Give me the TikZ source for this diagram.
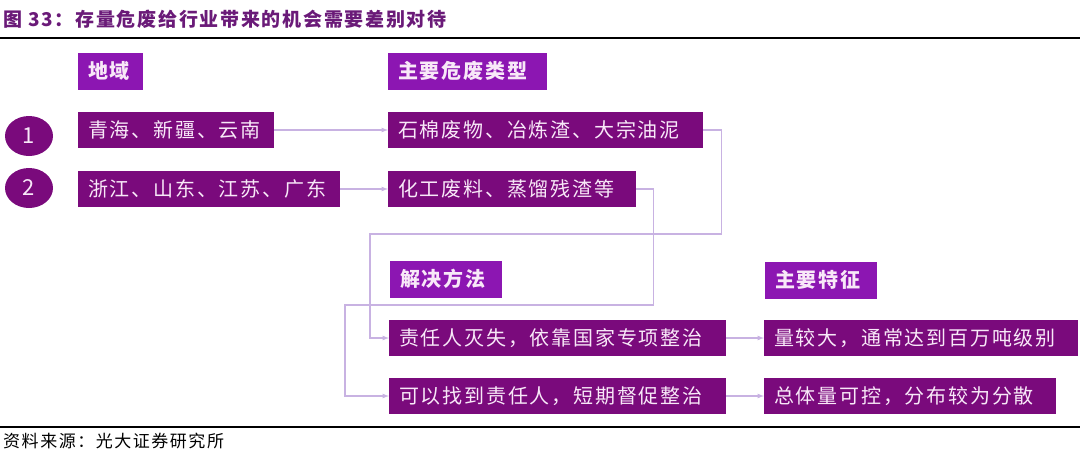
\documentclass[tikz,border=0pt]{standalone}
\usepackage{fontspec}
\setmainfont{Noto Sans CJK SC}
\newfontfamily\boxfont[LetterSpace=9]{Noto Sans CJK SC}
\usepackage{tikz}
\usetikzlibrary{shapes.geometric}
\definecolor{dkpurple}{RGB}{122,10,124}
\definecolor{hdpurple}{RGB}{140,22,178}
\definecolor{ttpurple}{RGB}{106,26,120}
\definecolor{linkcol}{RGB}{200,178,226}
\definecolor{boxtext}{RGB}{248,232,248}

\begin{document}
\begin{tikzpicture}[x = 1pt, y = -1pt,
  box/.style = {fill=dkpurple, text=boxtext, font=\boxfont\fontsize{20}{24}\selectfont, anchor=west, inner xsep=10pt, inner ysep=0pt, minimum height=36pt, text width=#1, align=left},
  head/.style = {box=#1, fill=hdpurple, font=\boxfont\fontsize{20}{24}\selectfont\bfseries, minimum height=37pt},
  num/.style = {ellipse, fill=dkpurple, text=boxtext, minimum width=48pt, minimum height=40pt, inner sep=0pt, font=\fontsize{22}{24}\selectfont},
  link/.style = {-latex, linkcol, line width=1.2pt}]
  \useasboundingbox (0, 0) rectangle (1080, 456);
  \node[anchor=west, text=ttpurple, font=\boxfont\fontsize{19}{24}\selectfont\bfseries, inner sep=0pt] (title) at (3, 19) {图 33：存量危废给行业带来的机会需要差别对待};
  \draw[line width=2pt] (0, 38) -- (1080, 38);
  \draw[line width=2pt] (0, 427) -- (1080, 427);
  \node[anchor=west, font=\boxfont\fontsize{17}{20}\selectfont, inner sep=0pt] (src) at (3, 441) {资料来源：光大证券研究所};
  \node[num] (n1) at (29, 136) {1};
  \node[num] (n2) at (29, 188) {2};
  \node[head=45pt] (hdy) at (78, 71) {地域};
  \node[head=139pt] (hlx) at (388, 71) {主要危废类型};
  \node[head=92pt] (hff) at (390, 279) {解决方法};
  \node[head=92pt] (htz) at (765, 280) {主要特征};
  \node[box=176pt] (qh) at (78, 130) {青海、新疆、云南};
  \node[box=242pt] (zj) at (78, 189) {浙江、山东、江苏、广东};
  \node[box=295pt] (sm) at (388, 130) {石棉废物、冶炼渣、大宗油泥};
  \node[box=228pt] (hg) at (388, 189) {化工废料、蒸馏残渣等};
  \node[box=317pt] (zr) at (389, 338) {责任人灭失，依靠国家专项整治};
  \node[box=317pt] (kz) at (389, 396) {可以找到责任人，短期督促整治};
  \node[box=294pt] (lj) at (764, 338) {量较大，通常达到百万吨级别};
  \node[box=272pt] (zt) at (764, 396) {总体量可控，分布较为分散};
  \draw[link] (qh.east) -- (sm.west);
  \draw[link] (zj.east) -- (hg.west);
  \draw[link] (zr.east) -- (lj.west);
  \draw[link] (kz.east) -- (zt.west);
  \draw[link] (sm.east) -- ++(18, 0) |- (370, 234) |- (zr.west);
  \draw[link] (hg.east) -- ++(17, 0) |- (345, 305) |- (kz.west);
\end{tikzpicture}
\end{document}
